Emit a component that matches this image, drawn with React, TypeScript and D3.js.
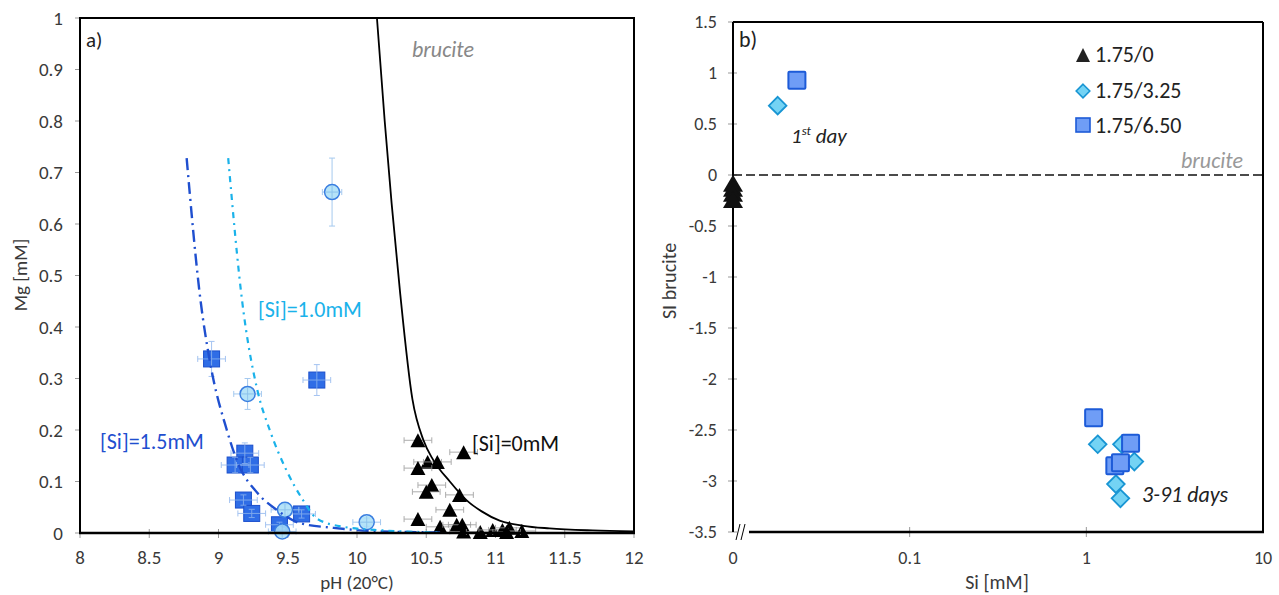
import React from "react";
import * as d3 from "d3";

// ---------- Panel a data ----------
const xTicksA = [8, 8.5, 9, 9.5, 10, 10.5, 11, 11.5, 12];
const yTicksA = [0, 0.1, 0.2, 0.3, 0.4, 0.5, 0.6, 0.7, 0.8, 0.9, 1];

const sqPH = [8.95, 9.19, 9.12, 9.23, 9.18, 9.24, 9.44, 9.6, 9.71];
const sqMg = [0.338, 0.155, 0.132, 0.132, 0.064, 0.038, 0.016, 0.037, 0.297];
const sqPHerr = [0.1, 0.1, 0.1, 0.1, 0.1, 0.1, 0.1, 0.1, 0.1];
const sqMgErr = [0.034, 0.02, 0.015, 0.015, 0.01, 0.008, 0.005, 0.008, 0.03];

const ciPH = [9.21, 9.48, 9.46, 10.07, 9.82];
const ciMg = [0.27, 0.045, 0.003, 0.021, 0.662];
const ciPHerr = [0.1, 0.1, 0.1, 0.1, 0.07];
const ciMgErr = [0.03, 0.01, 0.005, 0.008, 0.066];

const trPH = [10.44, 10.77, 10.51, 10.58, 10.44, 10.54, 10.5, 10.74, 10.67, 10.44, 10.6, 10.72, 10.76, 10.77, 10.89, 10.98, 11.05, 11.1, 11.19, 11.08];
const trMg = [0.18, 0.157, 0.138, 0.138, 0.126, 0.093, 0.08, 0.074, 0.045, 0.027, 0.012, 0.016, 0.016, 0.003, 0.002, 0.006, 0.006, 0.01, 0.004, 0.002];
const trPHerr = 0.1;

// model curves
const cBrucitePH = [10.144, 10.2, 10.25, 10.31, 10.4, 10.48, 10.55, 10.67, 10.79, 10.9, 11.03, 11.2, 11.39, 11.7, 12];
const cBruciteMg = [1.0, 0.8, 0.64, 0.47, 0.26, 0.18, 0.142, 0.1, 0.064, 0.042, 0.024, 0.014, 0.009, 0.005, 0.003];
const cSi15PH = [8.77, 8.87, 8.94, 9.06, 9.14, 9.28, 9.42, 9.59, 9.83, 10.1, 10.6];
const cSi15Mg = [0.728, 0.452, 0.33, 0.2, 0.136, 0.078, 0.045, 0.019, 0.01, 0.004, 0.001];
const cSi10PH = [9.07, 9.17, 9.28, 9.37, 9.49, 9.61, 9.71, 9.9, 10.19, 10.6];
const cSi10Mg = [0.728, 0.452, 0.278, 0.2, 0.122, 0.064, 0.028, 0.012, 0.005, 0.001];

// ---------- Panel b data ----------
const yTicksB = [-3.5, -3, -2.5, -2, -1.5, -1, -0.5, 0, 0.5, 1, 1.5];
const xTicksB = [0.01, 0.1, 1, 10];
const xTickLabelsB = ["0", "0.1", "1", "10"];

const triSi = [0, 0, 0, 0];
const triSI = [-0.08, -0.13, -0.18, -0.24];
const diaSi = [0.0179, 1.16, 1.59, 1.87, 1.47, 1.56];
const diaSI = [0.68, -2.64, -2.64, -2.81, -3.03, -3.17];
const sqSi = [0.023, 1.1, 1.78, 1.45, 1.56];
const sqSI = [0.93, -2.38, -2.63, -2.85, -2.82];
const legendLabels = ["1.75/0", "1.75/3.25", "1.75/6.50"];

const FONT = "Carlito, Lato, 'Open Sans', sans-serif";
const TXT = "#3a3a3a";

const SQ_A_FILL = "#2f6de6";
const SQ_A_STROKE = "#1b4fcc";
const CI_FILL = "#a8def7";
const CI_STROKE = "#3a7ee0";
const DARK_BLUE = "#1f4fcf";
const LIGHT_BLUE = "#1ab2ea";
const DIA_FILL = "#74d3f4";
const DIA_STROKE = "#1895d3";
const SQ_B_FILL = "#6f9df6";
const SQ_B_STROKE = "#1d5bd8";

const tri = (cx: number, cy: number, w: number, h: number) =>
  `M${cx},${cy - h / 2}L${cx + w / 2},${cy + h / 2}L${cx - w / 2},${cy + h / 2}Z`;
const dia = (cx: number, cy: number, r: number) =>
  `M${cx},${cy - r}L${cx + r},${cy}L${cx},${cy + r}L${cx - r},${cy}Z`;

export default function App() {
  // panel a scales
  const xA = d3.scaleLinear().domain([8, 12]).range([80, 634]);
  const yA = d3.scaleLinear().domain([0, 1]).range([533, 18]);
  // panel b scales
  const bL = 733, bR = 1263, bT = 22, bB = 532;
  const xB = d3.scaleLog().domain([0.01, 10]).range([bL, bR]);
  const yB = d3.scaleLinear().domain([-3.5, 1.5]).range([bB, bT]);
  const xb = (v: number) => xB(Math.max(v, 0.01));

  const lineA = (xs: number[], ys: number[]) =>
    d3
      .line<number>()
      .x((_, i) => xA(xs[i]))
      .y((_, i) => yA(ys[i]))
      .curve(d3.curveMonotoneX)(xs) || "";

  const errBar = (cx: number, cy: number, dx: number, dy: number, color: string, key: string, op = 1) => {
    const cap = 3;
    return (
      <g key={key} stroke={color} strokeWidth={1} opacity={op}>
        {dx > 0 && (
          <>
            <line x1={cx - dx} x2={cx + dx} y1={cy} y2={cy} />
            <line x1={cx - dx} x2={cx - dx} y1={cy - cap} y2={cy + cap} />
            <line x1={cx + dx} x2={cx + dx} y1={cy - cap} y2={cy + cap} />
          </>
        )}
        {dy > 0 && (
          <>
            <line x1={cx} x2={cx} y1={cy - dy} y2={cy + dy} />
            <line x1={cx - cap} x2={cx + cap} y1={cy - dy} y2={cy - dy} />
            <line x1={cx - cap} x2={cx + cap} y1={cy + dy} y2={cy + dy} />
          </>
        )}
      </g>
    );
  };

  const pxPerPH = xA(1) - xA(0);
  const pxPerMg = yA(0) - yA(1);

  return (
    <svg
      width={1279}
      height={595}
      style={{ position: "absolute", left: 0, top: 0, background: "#fff" }}
      fontFamily={FONT}
    >
      <defs>
        <clipPath id="clipA">
          <rect x={80} y={18} width={554} height={515} />
        </clipPath>
      </defs>
      <rect x={0} y={0} width={1279} height={595} fill="#fff" />

      {/* ================= PANEL A ================= */}
      {yTicksA.map((t) => (
        <g key={"ya" + t}>
          <line x1={75} x2={80} y1={yA(t)} y2={yA(t)} stroke="#999" />
          <text x={63} y={yA(t) + 6.5} textAnchor="end" fontSize={19} fill={TXT}>
            {t}
          </text>
        </g>
      ))}
      {xTicksA.map((t) => (
        <g key={"xa" + t}>
          <line x1={xA(t)} x2={xA(t)} y1={529} y2={538} stroke="#999" />
          <text x={xA(t)} y={564} textAnchor="middle" fontSize={19} fill={TXT}>
            {t}
          </text>
        </g>
      ))}
      <text x={357} y={589} textAnchor="middle" fontSize={19} fill={TXT}>
        pH (20°C)
      </text>
      <text transform="translate(27,275) rotate(-90)" textAnchor="middle" fontSize={19} fill={TXT}>
        Mg [mM]
      </text>

      {/* triangles a */}
      {trPH.map((p, i) => (
        <g key={"tra" + i}>
          {errBar(xA(p), yA(trMg[i]), trPHerr * pxPerPH, 0, "#999", "etr" + i, 0.8)}
          <path d={tri(xA(p), yA(trMg[i]), 15, 14)} fill="#000" />
        </g>
      ))}
      {/* squares a */}
      {sqPH.map((p, i) => (
        <rect
          key={"sqa" + i}
          x={xA(p) - 8}
          y={yA(sqMg[i]) - 8}
          width={16}
          height={16}
          fill={SQ_A_FILL}
          stroke={SQ_A_STROKE}
          strokeWidth={1}
        />
      ))}
      {sqPH.map((p, i) =>
        errBar(xA(p), yA(sqMg[i]), sqPHerr[i] * pxPerPH, sqMgErr[i] * pxPerMg, "#8fb6ee", "esq" + i, 0.8)
      )}
      {/* circles a */}
      {ciPH.map((p, i) =>
        errBar(xA(p), yA(ciMg[i]), ciPHerr[i] * pxPerPH, ciMgErr[i] * pxPerMg, "#9cc4ee", "eci" + i, 0.9)
      )}
      {ciPH.map((p, i) => (
        <circle
          key={"cia" + i}
          cx={xA(p)}
          cy={yA(ciMg[i])}
          r={7.5}
          fill={CI_FILL}
          fillOpacity={0.85}
          stroke={CI_STROKE}
          strokeWidth={1.5}
        />
      ))}
      {ciPH.map((p, i) => (
        <g key={"cix" + i} stroke="#8cbfea" strokeWidth={0.8}>
          <line x1={xA(p) - 7} x2={xA(p) + 7} y1={yA(ciMg[i])} y2={yA(ciMg[i])} />
          <line x1={xA(p)} x2={xA(p)} y1={yA(ciMg[i]) - 7} y2={yA(ciMg[i]) + 7} />
        </g>
      ))}

      {/* curves */}
      <g clipPath="url(#clipA)" fill="none">
        <path d={lineA(cBrucitePH, cBruciteMg)} stroke="#000" strokeWidth={1.8} />
        <path d={lineA(cSi15PH, cSi15Mg)} stroke={DARK_BLUE} strokeWidth={2.4} strokeDasharray="12 5 2 5" />
        <path d={lineA(cSi10PH, cSi10Mg)} stroke={LIGHT_BLUE} strokeWidth={2.2} strokeDasharray="6 5 2 5" />
      </g>

      {/* frame a */}
      <rect x={80} y={18} width={554} height={515} fill="none" stroke="#000" strokeWidth={2} />
      <line x1={79} x2={635} y1={533} y2={533} stroke="#000" strokeWidth={2.5} />

      <text x={86} y={47} fontSize={21} fill="#222">a)</text>
      <text x={412} y={57} fontSize={22} fontStyle="italic" fill="#888">brucite</text>
      <text x={258} y={317} fontSize={22} fill={LIGHT_BLUE}>[Si]=1.0mM</text>
      <text x={100} y={449} fontSize={22} fill={DARK_BLUE}>[Si]=1.5mM</text>
      <text x={472} y={451} fontSize={22} fill="#111">[Si]=0mM</text>

      {/* ================= PANEL B ================= */}
      {yTicksB.map((t) => (
        <g key={"yb" + t}>
          <line x1={bL - 5} x2={bL + 4} y1={yB(t)} y2={yB(t)} stroke="#999" />
          <text x={717} y={yB(t) + 6} textAnchor="end" fontSize={18} fill={TXT}>
            {t}
          </text>
        </g>
      ))}
      {xTicksB.map((t, i) => (
        <g key={"xb" + t}>
          {i > 0 && i < 3 && <line x1={xB(t)} x2={xB(t)} y1={527} y2={537} stroke="#999" />}
          <text x={xB(t)} y={564} textAnchor="middle" fontSize={18} fill={TXT}>
            {xTickLabelsB[i]}
          </text>
        </g>
      ))}
      <text x={997} y={589} textAnchor="middle" fontSize={20} fill={TXT}>
        Si [mM]
      </text>
      <text transform="translate(676,281) rotate(-90)" textAnchor="middle" fontSize={20} fill={TXT}>
        SI brucite
      </text>

      {/* brucite dashed line */}
      <line x1={bL} x2={bR} y1={yB(0)} y2={yB(0)} stroke="#111" strokeWidth={1.3} strokeDasharray="9 4" />
      <text x={1243} y={168} textAnchor="end" fontSize={22} fontStyle="italic" fill="#999">
        brucite
      </text>

      {/* frame b */}
      <line x1={bL} x2={bR} y1={bT} y2={bT} stroke="#000" strokeWidth={2} />
      <line x1={bR} x2={bR} y1={bT} y2={bB} stroke="#000" strokeWidth={2} />
      <line x1={bL} x2={bL} y1={bT} y2={bB} stroke="#000" strokeWidth={2} />
      <line x1={749} x2={bR + 1} y1={bB} y2={bB} stroke="#000" strokeWidth={2.5} />
      <line x1={736} x2={740} y1={540} y2={524} stroke="#000" strokeWidth={1} />
      <line x1={741} x2={745} y1={540} y2={524} stroke="#000" strokeWidth={1} />

      {/* triangles b */}
      {triSi.map((s, i) => (
        <path key={"trb" + i} d={tri(xb(s), yB(triSI[i]), 20, 17)} fill="#111" />
      ))}
      {/* diamonds b */}
      {diaSi.map((s, i) => (
        <path key={"dib" + i} d={dia(xb(s), yB(diaSI[i]), 8.8)} fill={DIA_FILL} stroke={DIA_STROKE} strokeWidth={1.8} />
      ))}
      {/* squares b */}
      {sqSi.map((s, i) => (
        <rect
          key={"sqb" + i}
          x={xb(s) - 8.5}
          y={yB(sqSI[i]) - 8.5}
          width={17}
          height={17}
          fill={SQ_B_FILL}
          stroke={SQ_B_STROKE}
          strokeWidth={2}
          rx={1}
        />
      ))}

      <text x={739} y={47} fontSize={22} fill="#222">b)</text>
      <text x={791} y={143} fontSize={21} fontStyle="italic" fill="#222">
        1<tspan fontSize={13} dy={-8}>st</tspan>
        <tspan dy={8}> day</tspan>
      </text>
      <text x={1142} y={502} fontSize={22} fontStyle="italic" fill="#222">
        3-91 days
      </text>

      {/* legend */}
      <path d={tri(1083, 55, 14, 14)} fill="#222" />
      <text x={1095} y={62} fontSize={22} fill="#222">{legendLabels[0]}</text>
      <path d={dia(1083, 91, 6.8)} fill={DIA_FILL} stroke={DIA_STROKE} strokeWidth={1.6} />
      <text x={1095} y={98} fontSize={22} fill="#222">{legendLabels[1]}</text>
      <rect x={1076} y={118} width={14} height={14} fill={SQ_B_FILL} stroke={SQ_B_STROKE} strokeWidth={1.6} />
      <text x={1095} y={133} fontSize={22} fill="#222">{legendLabels[2]}</text>
    </svg>
  );
}
